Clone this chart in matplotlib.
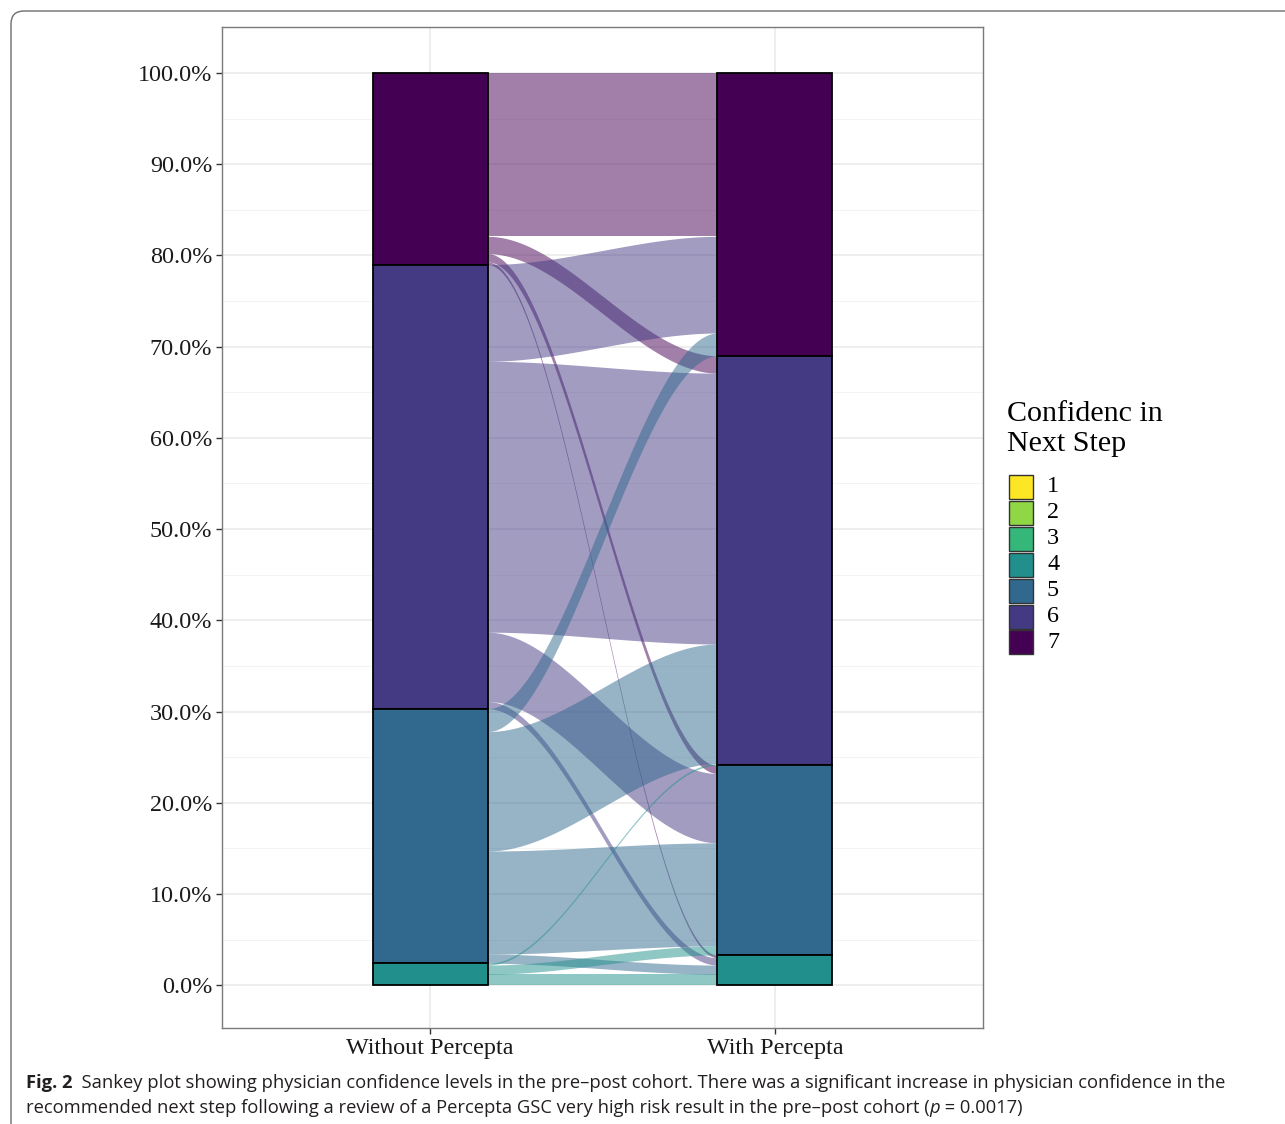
import numpy as np
import matplotlib.pyplot as plt
from matplotlib import font_manager
from matplotlib.patches import Rectangle, PathPatch
from matplotlib.path import Path

# ---- data (percent of respondents) ----
axis_names = ["Without Percepta", "With Percepta"]
stack_levels = [7, 6, 5, 4]          # top to bottom in each stack
legend_levels = [1, 2, 3, 4, 5, 6, 7]
level_colors = {1: "#FDE725", 2: "#8FD744", 3: "#35B779", 4: "#21908C",
                5: "#31688E", 6: "#443A83", 7: "#440154"}

flow_from = [7, 7, 7, 7, 6, 6, 6, 6, 5, 5, 5, 5, 4, 4, 4]
flow_to = [7, 6, 5, 4, 7, 6, 5, 4, 7, 6, 5, 4, 6, 5, 4]
flow_pct = [17.9, 1.9, 0.9, 0.3, 10.6, 29.7, 7.6, 0.8, 2.5, 13.1, 11.3, 1.0, 0.2, 1.0, 1.2]

y_ticks = np.arange(0, 101, 10)
legend_title = "Confidenc in\nNext Step"
caption_bold = "Fig. 2"
caption_line1 = ("  Sankey plot showing physician confidence levels in the pre\u2013post cohort. "
                 "There was a significant increase in physician confidence in the")
caption_line2a = ("recommended next step following a review of a Percepta GSC very high risk "
                  "result in the pre\u2013post cohort (")
caption_line2b = "p"
caption_line2c = " = 0.0017)"

W, H = 1285, 1124
serif = "Liberation Serif"
names = {f.name for f in font_manager.fontManager.ttflist}
cap_font = "Liberation Sans Narrow" if "Liberation Sans Narrow" in names else "Open Sans"


def px(x, y):
    return x / W, 1 - y / H


fig = plt.figure(figsize=(W / 100, H / 100), dpi=100)
ax = fig.add_axes([222 / W, 1 - 1028 / H, (983 - 222) / W, (1028 - 27) / H])

bar_w = 1 / 3
x_left, x_right = 1, 2

# stack positions of each flow on the left (by origin, then destination)
left_pos = {}
cur = 100.0
for a in stack_levels:
    for b in stack_levels:
        for i in range(len(flow_pct)):
            if flow_from[i] == a and flow_to[i] == b:
                left_pos[i] = (cur - flow_pct[i], cur)
                cur -= flow_pct[i]

# stack positions on the right (by destination, then origin)
right_pos = {}
cur = 100.0
for b in stack_levels:
    for a in stack_levels:
        for i in range(len(flow_pct)):
            if flow_from[i] == a and flow_to[i] == b:
                right_pos[i] = (cur - flow_pct[i], cur)
                cur -= flow_pct[i]

t = np.linspace(0, 1, 300)
s = 3 * t ** 2 - 2 * t ** 3
xs = (x_left + bar_w / 2) + (x_right - x_left - bar_w) * t
for i in range(len(flow_pct)):
    lb, lt = left_pos[i]
    rb, rt = right_pos[i]
    ax.fill_between(xs, lb + (rb - lb) * s, lt + (rt - lt) * s,
                    color=level_colors[flow_from[i]], alpha=0.5, lw=0, zorder=2)

# strata
for xc, key in [(x_left, flow_from), (x_right, flow_to)]:
    cur = 100.0
    for lev in stack_levels:
        tot = sum(v for v, k in zip(flow_pct, key) if k == lev)
        ax.add_patch(Rectangle((xc - bar_w / 2, cur - tot), bar_w, tot,
                               facecolor=level_colors[lev], edgecolor="black",
                               lw=1.3, zorder=3))
        cur -= tot

ax.set_xlim(0.397, 2.603)
ax.set_ylim(-4.7, 105.05)
ax.set_xticks([x_left, x_right])
ax.set_xticklabels(axis_names)
ax.set_yticks(y_ticks)
ax.set_yticklabels([f"{v:.1f}%" for v in y_ticks])
ax.set_yticks(np.arange(5, 100, 10), minor=True)
ax.tick_params(which="major", length=4, width=1, color="#333333",
               labelsize=17.4, labelcolor="#1a1a1a", pad=3)
ax.tick_params(which="minor", length=0)
for lab in ax.get_xticklabels() + ax.get_yticklabels():
    lab.set_fontfamily(serif)
ax.grid(which="major", color="#EBEBEB", lw=1.2)
ax.grid(which="minor", axis="y", color="#F3F3F3", lw=0.7)
ax.set_axisbelow(True)
for sp in ax.spines.values():
    sp.set_color("#7a7a7a")
    sp.set_linewidth(1)

# legend
fig.text(*px(1007, 401), legend_title, fontsize=21.6, family=serif,
         va="top", ha="left", linespacing=1.22)
for j, lev in enumerate(legend_levels):
    top = 475 + j * 25.9
    x0, y0 = px(1009, top + 24)
    fig.add_artist(Rectangle((x0, y0), 24 / W, 24 / H, transform=fig.transFigure,
                             facecolor=level_colors[lev], edgecolor="#333333", lw=1))
    fig.text(*px(1047, top + 12), str(lev), fontsize=17.4, family=serif,
             va="center", ha="left")

# outer frame of the article figure
frame = Path([(1300, 11), (24, 11), (11, 11), (11, 24), (11, 1124)],
             [Path.MOVETO, Path.LINETO, Path.CURVE3, Path.CURVE3, Path.LINETO])
frame = Path([px(*v) for v in frame.vertices], frame.codes)
fig.add_artist(PathPatch(frame, transform=fig.transFigure, fill=False,
                         edgecolor="#6d6d6d", lw=1))

# caption
cap_size = 14.5
cap_kw = dict(family=cap_font, color="#231f20")
t1 = fig.text(*px(26, 1088), caption_bold, fontsize=cap_size, weight="bold",
              va="baseline", **cap_kw)
t2 = ax.annotate(caption_line1, xy=(1, 0), xycoords=t1, fontsize=cap_size,
                 va="bottom", annotation_clip=False, **cap_kw)
t3 = fig.text(*px(26, 1113), caption_line2a, fontsize=cap_size, va="baseline", **cap_kw)
t4 = ax.annotate(caption_line2b, xy=(1, 0), xycoords=t3, fontsize=cap_size,
                 style="italic", va="bottom", annotation_clip=False, **cap_kw)
t5 = ax.annotate(caption_line2c, xy=(1, 0), xycoords=t4, fontsize=cap_size,
                 va="bottom", annotation_clip=False, **cap_kw)

# shrink caption so the first line ends where the reference's does
fig.canvas.draw()
r = fig.canvas.get_renderer()
line_w = t2.get_window_extent(r).x1 - t1.get_window_extent(r).x0
scale = (1232 - 26) / line_w
for txt in (t1, t2, t3, t4, t5):
    txt.set_fontsize(cap_size * scale)

fig.savefig("out.png", dpi=100)
